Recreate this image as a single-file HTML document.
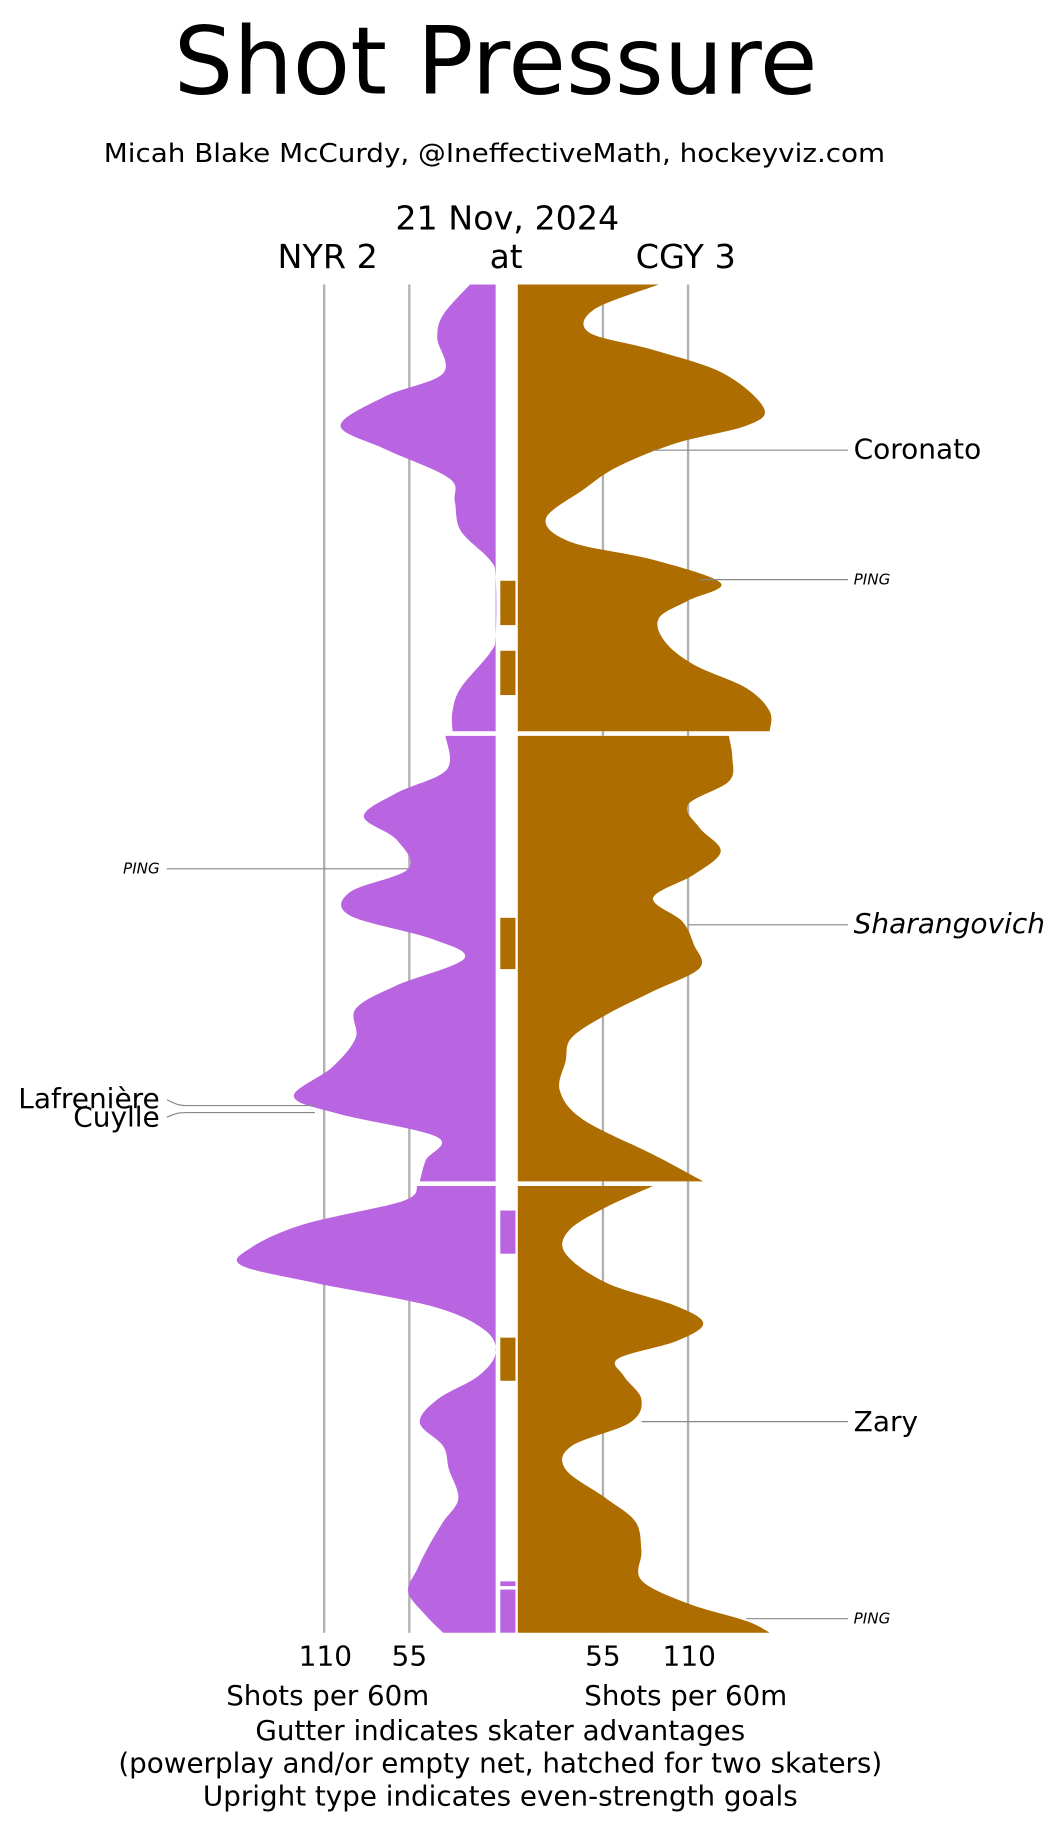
<!DOCTYPE html>
<html><head><meta charset="utf-8"><style>
html,body{margin:0;padding:0;background:#fff;}
svg{display:block;}
text{font-family:"DejaVu Sans","Liberation Sans",sans-serif;fill:#000;}
</style></head><body>
<svg id="s" width="1063" height="1827" viewBox="0 0 911.5 1566.6" preserveAspectRatio="none" xmlns="http://www.w3.org/2000/svg">
<text x="425" y="80" font-size="80" text-anchor="middle" textLength="552" lengthAdjust="spacingAndGlyphs">Shot Pressure</text>
<text x="424" y="139" font-size="22" text-anchor="middle" textLength="670" lengthAdjust="spacingAndGlyphs">Micah Blake McCurdy, @IneffectiveMath, hockeyviz.com</text>
<text x="435" y="197" font-size="28" text-anchor="middle" textLength="192" lengthAdjust="spacingAndGlyphs">21 Nov, 2024</text>
<text x="281" y="230" font-size="28" text-anchor="middle" textLength="86" lengthAdjust="spacingAndGlyphs">NYR 2</text>
<text x="434" y="230" font-size="28" text-anchor="middle">at</text>
<text x="588" y="230" font-size="28" text-anchor="middle" textLength="86" lengthAdjust="spacingAndGlyphs">CGY 3</text>

<g stroke="#b0b0b0" stroke-width="2">
<line x1="278" y1="244" x2="278" y2="1400"/><line x1="351" y1="244" x2="351" y2="1400"/>
<line x1="517" y1="244" x2="517" y2="1400"/><line x1="590" y1="244" x2="590" y2="1400"/>
</g>

<g id="shapes">
<polygon class="L" fill="#b964e0" points="403,244 380,270 375,290 380,320 330,340 292,365 330,385 385,410 390,430 395,455 420,480 425,495 425,545 420,560 395,590 388,610 388,627"/>
<polygon class="R" fill="#ad6d00" points="565,244 510,265 505,285 560,300 620,320 655,350 640,365 580,380 530,400 500,420 468,445 490,465 560,480 618,500 590,515 565,530 570,550 595,570 640,590 660,610 660,627"/>
<polygon class="L" fill="#b964e0" points="382,631 383,660 340,680 312,700 340,720 350,745 300,765 300,785 370,805 398,822 340,845 305,865 305,890 285,915 252,940 290,955 375,975 365,995 360,1013"/>
<polygon class="R" fill="#ad6d00" points="625,631 628,650 625,670 590,690 600,710 618,730 595,750 560,770 585,790 595,810 600,830 560,850 520,870 490,890 485,910 480,935 500,960 560,990 603,1013"/>
<polygon class="L" fill="#b964e0" points="358,1017 345,1030 260,1050 215,1070 207,1085 270,1100 370,1120 415,1140 425,1160 410,1180 375,1200 360,1220 380,1240 385,1260 393,1285 380,1305 368,1325 358,1345 350,1365 365,1385 380,1400"/>
<polygon class="R" fill="#ad6d00" points="560,1017 520,1035 488,1055 485,1075 520,1100 580,1120 603,1135 580,1150 530,1165 535,1180 550,1200 540,1220 490,1240 485,1260 520,1285 545,1305 550,1330 550,1355 590,1375 640,1390 660,1400"/>
</g>

<g fill="#ad6d00">
<rect x="429" y="498" width="13" height="38"/><rect x="429" y="558" width="13" height="38"/>
<rect x="429" y="787" width="13" height="44"/><rect x="429" y="1147" width="13" height="37"/>
</g>
<g fill="#b964e0">
<rect x="429" y="1038" width="13" height="37"/><rect x="429" y="1356" width="13" height="4"/><rect x="429" y="1363" width="13" height="37"/>
</g>

<g stroke="#888" stroke-width="1" fill="none">
<line x1="560" y1="386" x2="727" y2="386"/>
<line x1="600" y1="497" x2="727" y2="497"/>
<line x1="143" y1="745" x2="350" y2="745"/>
<line x1="590" y1="793" x2="727" y2="793"/>
<path d="M143,943 C150,946 152,948 160,948 L270,948"/>
<path d="M143,958 C150,955 152,954 160,954 L270,954"/>
<line x1="550" y1="1219" x2="727" y2="1219"/>
<line x1="640" y1="1388" x2="727" y2="1388"/>
</g>
<text x="732" y="393" font-size="24">Coronato</text>
<text x="732" y="501" font-size="13" font-style="italic">PING</text>
<text x="137" y="749" font-size="13" font-style="italic" text-anchor="end">PING</text>
<text x="732" y="800" font-size="24" font-style="italic">Sharangovich</text>
<text x="137" y="950" font-size="24" text-anchor="end">Lafrenière</text>
<text x="137" y="966" font-size="24" text-anchor="end">Cuylle</text>
<text x="732" y="1227" font-size="24">Zary</text>
<text x="732" y="1392" font-size="13" font-style="italic">PING</text>

<g font-size="24" text-anchor="middle">
<text x="279" y="1428">110</text><text x="351" y="1428">55</text>
<text x="517" y="1428">55</text><text x="591" y="1428">110</text>
<text x="281" y="1462" textLength="174" lengthAdjust="spacingAndGlyphs">Shots per 60m</text>
<text x="588" y="1462" textLength="174" lengthAdjust="spacingAndGlyphs">Shots per 60m</text>
<text x="429" y="1492" textLength="420" lengthAdjust="spacingAndGlyphs">Gutter indicates skater advantages</text>
<text x="429" y="1520" textLength="655" lengthAdjust="spacingAndGlyphs">(powerplay and/or empty net, hatched for two skaters)</text>
<text x="429" y="1548" textLength="510" lengthAdjust="spacingAndGlyphs">Upright type indicates even-strength goals</text>
</g>
</svg>
<script>
(function(){
var ps=document.querySelectorAll('#shapes polygon');
ps.forEach(function(p){
 var a=p.getAttribute('points').trim().split(/\s+/).map(function(s){var t=s.split(',');return [+t[0],+t[1]];});
 var base=p.getAttribute('class')=='L'?425:444;
 var d='M'+base+','+a[0][1]+' L'+a[0][0]+','+a[0][1];
 for(var i=0;i<a.length-1;i++){
  var p0=a[Math.max(0,i-1)],p1=a[i],p2=a[i+1],p3=a[Math.min(a.length-1,i+2)];
  var c1=[p1[0]+(p2[0]-p0[0])/6,p1[1]+(p2[1]-p0[1])/6];
  var c2=[p2[0]-(p3[0]-p1[0])/6,p2[1]-(p3[1]-p1[1])/6];
  d+=' C'+c1+' '+c2+' '+p2;
 }
 d+=' L'+base+','+a[a.length-1][1]+' Z';
 var n=document.createElementNS('http://www.w3.org/2000/svg','path');
 n.setAttribute('d',d);n.setAttribute('fill',p.getAttribute('fill'));
 p.parentNode.replaceChild(n,p);
});
})();
</script>
</body></html>
